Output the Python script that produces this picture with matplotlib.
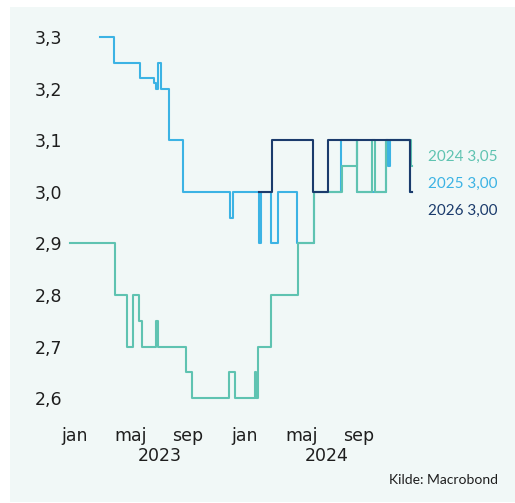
import numpy as np
import pandas as pd
import matplotlib
matplotlib.use('Agg')
import matplotlib.pyplot as plt
import matplotlib.dates as mdates
from matplotlib.patches import Rectangle

plt.rcParams['font.family'] = ['DejaVu Sans']

# forventet rente for hhv. 2024, 2025 og 2026 (trappekurver)
dates_2024 = ['2022-12-22', '2023-03-28', '2023-04-22', '2023-05-06', '2023-05-19',
              '2023-05-26', '2023-06-25', '2023-06-28', '2023-08-27', '2023-09-10',
              '2023-11-28', '2023-12-11', '2024-01-22', '2024-01-24', '2024-01-29',
              '2024-02-25', '2024-04-23', '2024-05-28', '2024-07-26', '2024-08-27',
              '2024-08-29', '2024-09-30', '2024-10-05', '2024-10-29', '2024-12-22',
              '2024-12-24']
vals_2024 = [2.90, 2.80, 2.70, 2.80, 2.75,
             2.70, 2.75, 2.70, 2.65, 2.60,
             2.65, 2.60, 2.65, 2.60, 2.70,
             2.80, 2.90, 3.00, 3.05, 3.10,
             3.00, 3.10, 3.00, 3.10, 3.05,
             3.05]

dates_2025 = ['2023-02-24', '2023-03-27', '2023-05-21', '2023-06-20', '2023-06-24',
              '2023-06-28', '2023-07-05', '2023-07-22', '2023-08-20', '2023-11-29',
              '2023-12-07', '2024-01-30', '2024-02-05', '2024-02-25', '2024-03-12',
              '2024-04-22', '2024-05-28', '2024-07-25', '2024-08-29', '2024-10-29',
              '2024-11-03', '2024-11-07', '2024-12-20', '2024-12-23']
vals_2025 = [3.30, 3.25, 3.22, 3.21, 3.20,
             3.25, 3.20, 3.10, 3.00, 2.95,
             3.00, 2.90, 3.00, 2.90, 3.00,
             2.90, 3.00, 3.10, 3.00, 3.10,
             3.05, 3.10, 3.00, 3.00]

dates_2026 = ['2024-01-30', '2024-02-27', '2024-05-26', '2024-06-27', '2024-12-20',
              '2024-12-23']
vals_2026 = [3.00, 3.10, 3.00, 3.10, 3.00,
             3.00]

yticks = [2.6, 2.7, 2.8, 2.9, 3.0, 3.1, 3.2, 3.3]
month_ticks = ['2023-01-01', '2023-05-01', '2023-09-01', '2024-01-01', '2024-05-01', '2024-09-01']
month_labels = ['jan', 'maj', 'sep', 'jan', 'maj', 'sep']
years = ['2023', '2024']
year_pos = ['2023-07-02', '2024-06-25']

c_2024 = '#5fc3b1'
c_2025 = '#3cb3e4'
c_2026 = '#1b3b6c'
bg = '#f1f8f7'
txt = '#1e1e1e'

fig = plt.figure(figsize=(5.15, 5.03), dpi=100)
fig.patch.set_facecolor('white')
fig.patches.append(Rectangle((10 / 515, 1 / 503), 1 - 10 / 515, 495 / 503,
                             transform=fig.transFigure, facecolor=bg,
                             edgecolor='none', zorder=-10))

ax = fig.add_axes([0.1297, 0.1877, 0.6777, 0.7592])
ax.set_facecolor('none')
ax.set_zorder(2)

ax.plot(pd.to_datetime(dates_2025), vals_2025, drawstyle='steps-post', color=c_2025, lw=1.5)
ax.plot(pd.to_datetime(dates_2024), vals_2024, drawstyle='steps-post', color=c_2024, lw=1.5)
ax.plot(pd.to_datetime(dates_2026), vals_2026, drawstyle='steps-post', color=c_2026, lw=1.5)

ax.set_xlim(pd.Timestamp('2022-12-15'), pd.Timestamp('2025-01-01'))
ax.set_ylim(2.58, 3.32)

ax.set_yticks(yticks)
ax.set_yticklabels([f'{v:.1f}'.replace('.', ',') for v in yticks])
ax.set_xticks(pd.to_datetime(month_ticks))
ax.set_xticklabels(month_labels)
ax.tick_params(axis='both', length=0, labelsize=12.5, colors=txt)
ax.tick_params(axis='y', pad=3)
ax.tick_params(axis='x', pad=13)
for s in ax.spines.values():
    s.set_visible(False)

for y, p in zip(years, year_pos):
    ax.annotate(y, xy=(mdates.date2num(pd.Timestamp(p)), 0), xycoords=('data', 'axes fraction'),
                xytext=(0, -34), textcoords='offset points', ha='center', va='center',
                fontsize=12.5, color=txt)

# slutværdier ude til højre
ends = [('2024', vals_2024[-1], c_2024, 157), ('2025', vals_2025[-1], c_2025, 184),
        ('2026', vals_2026[-1], c_2026, 211)]
for name, v, c, ypix in ends:
    fig.text(497 / 515, 1 - ypix / 503, f'{name} {v:.2f}'.replace('.', ','),
             ha='right', va='center', fontsize=11, color=c, family=['Lato', 'DejaVu Sans'])

fig.text(498 / 515, 1 - 480 / 503, 'Kilde: Macrobond', ha='right', va='center',
         fontsize=10, color=txt, family=['Lato', 'DejaVu Sans'])

fig.savefig('out.png', dpi=100)
